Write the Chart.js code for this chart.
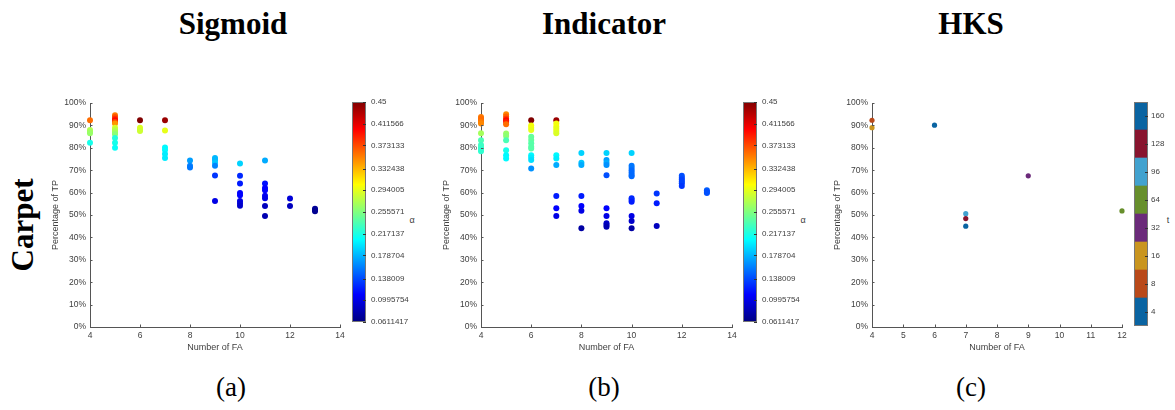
<!DOCTYPE html>
<html>
<head>
<meta charset="utf-8">
<script src="https://cdn.jsdelivr.net/npm/chart.js@4.4.1/dist/chart.umd.min.js"></script>
<style>
  body { margin:0; background:#fff; width:1175px; height:410px; position:relative; overflow:hidden; }
  canvas.c { position:absolute; }
  .t { position:absolute; font-family:'Liberation Serif','Times New Roman',serif; color:#000; white-space:nowrap; line-height:1; }
  .h { font-weight:bold; font-size:31px; transform:translateX(-50%); top:7.5px; }
  .sub { font-size:27px; transform:translateX(-50%); top:374px; }
  .lab { position:absolute; font-family:'Liberation Sans',Arial,sans-serif; font-size:9px; color:#404040; line-height:1; transform:translate(-50%,-50%); }
</style>
</head>
<body>
<div class="t h" style="left:233px">Sigmoid</div>
<div class="t h" style="left:604px">Indicator</div>
<div class="t h" style="left:971px">HKS</div>
<div class="t" style="left:22px;top:225px;font-size:31px;font-weight:bold;transform:translate(-50%,-50%) rotate(-90deg);">Carpet</div>
<div class="t sub" style="left:231px">(a)</div>
<div class="t sub" style="left:604px">(b)</div>
<div class="t sub" style="left:971px">(c)</div>
<div class="lab" style="left:412px;top:220px">α</div>
<div class="lab" style="left:803px;top:220px">α</div>
<div class="lab" style="left:1168px;top:220px">t</div>

<canvas class="c" id="pa" width="314" height="264" style="left:46px;top:93px"></canvas>
<canvas class="c" id="ca" width="70" height="240" style="left:352px;top:92px"></canvas>
<canvas class="c" id="pb" width="315" height="264" style="left:437px;top:93px"></canvas>
<canvas class="c" id="cb" width="70" height="240" style="left:743px;top:92px"></canvas>
<canvas class="c" id="pc" width="304" height="264" style="left:828px;top:93px"></canvas>
<canvas class="c" id="cc" width="41" height="244" style="left:1134px;top:92px"></canvas>

<script>
// ---------------- DATA ----------------
// (a) Sigmoid: number of FA, percentage of TP, alpha
const sigX = [4,4,4,4,4,
  5,5,5,5,5,5,5,5,5,5,5,5,5,5,
  6,6,6,6,
  7,7,7,7,7,7,
  8,8,8,
  9,9,9,9,9,9,
  10,10,10,10,10,10,10,10,
  11,11,11,11,11,11,11,11,
  12,12,
  13,13,13];
const sigY = [92.3,88.0,87.2,86.5,82.2,
  94.5,93.8,93.0,92.3,91.5,90.8,89.0,88.2,87.5,86.8,86.0,84.4,82.2,80.0,
  92.3,89.0,88.2,87.5,
  92.3,87.7,80.1,79.0,77.2,75.5,
  74.3,72.0,71.2,
  75.5,74.5,73.3,72.0,67.6,56.3,
  73.0,67.5,64.1,59.8,58.8,56.2,55.2,54.1,
  74.3,64.1,62.0,61.1,58.6,57.5,54.0,49.5,
  57.4,54.0,
  52.8,52.2,51.7];
const sigAlpha = [0.36,0.275,0.27,0.265,0.215,
  0.355,0.37,0.385,0.40,0.375,0.345,0.29,0.28,0.275,0.27,0.26,0.22,0.215,0.21,
  0.45,0.29,0.29,0.285,
  0.44,0.295,0.205,0.205,0.20,0.20,
  0.17,0.16,0.155,
  0.18,0.18,0.185,0.16,0.13,0.10,
  0.19,0.125,0.12,0.11,0.11,0.10,0.095,0.09,
  0.175,0.115,0.11,0.11,0.105,0.10,0.085,0.08,
  0.095,0.085,
  0.07,0.07,0.068];

// (b) Indicator
const indX = [4,4,4,4,4,4,4,4,4,4,4,
  5,5,5,5,5,5,5,5,5,5,5,5,
  6,6,6,6,6,6,6,6,6,6,6,6,6,
  7,7,7,7,7,7,7,7,7,7,7,7,
  8,8,8,8,8,8,8,
  9,9,9,9,9,9,9,9,9,9,
  10,10,10,10,10,10,10,10,10,10,10,10,10,
  11,11,11,
  12,12,12,12,12,12,
  13,13,13];
const indY = [93.8,93.0,92.3,91.5,90.8,86.5,83.4,81.2,80.2,79.3,78.5,
  95.0,94.0,93.0,92.3,91.5,90.5,86.4,85.3,83.4,78.9,76.7,75.2,
  92.3,90.0,89.0,88.0,84.9,83.5,82.0,80.5,79.7,76.7,75.7,74.5,70.8,
  92.3,90.8,89.5,88.5,87.5,86.5,76.7,75.2,72.3,58.5,53.0,49.6,
  77.7,73.3,72.3,58.5,54.0,51.9,44.1,
  77.7,74.5,73.3,72.3,67.8,53.0,49.6,46.3,45.5,44.8,
  77.7,72.0,71.0,70.0,69.0,68.0,67.3,57.5,56.7,55.9,49.6,47.3,44.1,
  59.6,55.2,45.1,
  67.5,66.6,65.8,65.0,64.2,63.0,
  61.0,60.3,59.8];
const indAlpha = [0.355,0.36,0.36,0.355,0.35,0.27,0.235,0.23,0.23,0.225,0.225,
  0.35,0.365,0.38,0.40,0.39,0.36,0.265,0.26,0.235,0.215,0.205,0.205,
  0.45,0.30,0.30,0.295,0.245,0.245,0.24,0.24,0.24,0.205,0.20,0.195,0.165,
  0.44,0.30,0.30,0.295,0.295,0.29,0.205,0.20,0.175,0.12,0.11,0.10,
  0.19,0.185,0.175,0.12,0.11,0.10,0.075,
  0.19,0.17,0.175,0.165,0.14,0.11,0.10,0.09,0.085,0.08,
  0.19,0.155,0.155,0.15,0.15,0.15,0.15,0.125,0.125,0.12,0.10,0.09,0.075,
  0.13,0.12,0.085,
  0.14,0.14,0.135,0.135,0.135,0.13,
  0.145,0.14,0.14];

// (c) HKS
const hksT = [4,8,16,32,64,96,128,160];
const hksX = [6,4,4,9,12,7,7,7];
const hksY = [90.1,92.3,89.0,67.5,51.8,50.6,48.4,45.0];

// colour bars
const alphaMin = 0.0611417, alphaMax = 0.45;
const alphaTicks = [0.0611417,0.0995754,0.138009,0.178704,0.217137,0.255571,0.294005,0.332438,0.373133,0.411566,0.45];
const alphaTickLabels = ['0.0611417','0.0995754','0.138009','0.178704','0.217137','0.255571','0.294005','0.332438','0.373133','0.411566','0.45'];
const tTickLabels = ['4','8','16','32','64','96','128','160'];
const tColors = ['#0a64a2','#b9491a','#c9951f','#6b2a7a','#678f2c','#42a2cf','#88142e','#0a64a2'];

// ---------------- STYLE ----------------
const SANS = "'Liberation Sans', Arial, sans-serif";
const TXT = '#404040';
const AX = '#555555';

function jet(a) {
  const t = Math.min(1, Math.max(0, (a - alphaMin) / (alphaMax - alphaMin)));
  const f = v => Math.round(255 * Math.min(1, Math.max(0, v)));
  return `rgb(${f(1.5 - Math.abs(4*t - 3))},${f(1.5 - Math.abs(4*t - 2))},${f(1.5 - Math.abs(4*t - 1))})`;
}

const inwardTicks = {
  id: 'inwardTicks',
  afterDatasetsDraw(chart) {
    const {ctx, chartArea: a, scales: {x, y}} = chart;
    ctx.save();
    ctx.strokeStyle = AX; ctx.lineWidth = 1;
    ctx.beginPath();
    x.ticks.forEach(t => { const p = Math.round(x.getPixelForValue(t.value)) + 0.5; ctx.moveTo(p, a.bottom); ctx.lineTo(p, a.bottom - 2.5); });
    y.ticks.forEach(t => { const p = Math.round(y.getPixelForValue(t.value)) + 0.5; ctx.moveTo(a.left, p); ctx.lineTo(a.left + 2.5, p); });
    ctx.stroke();
    ctx.restore();
  }
};

function scatterPanel(id, xs, ys, colors, xMin, xMax, xStep, padRight, radius) {
  new Chart(document.getElementById(id), {
    type: 'scatter',
    data: { datasets: [{
      data: xs.map((x, i) => ({x: x, y: ys[i]})),
      pointBackgroundColor: colors, pointBorderColor: colors, pointBorderWidth: 0,
      pointRadius: radius, pointHoverRadius: radius, clip: false
    }]},
    options: {
      responsive: false, animation: false, events: [],
      layout: { padding: { top: 10, right: padRight, left: 0, bottom: 0 } },
      plugins: { legend: {display: false}, tooltip: {enabled: false} },
      scales: {
        x: {
          type: 'linear', min: xMin, max: xMax,
          grid: {display: false, drawTicks: false}, border: {display: true, color: AX, width: 1},
          ticks: {stepSize: xStep, padding: 4, color: TXT, font: {family: SANS, size: 8.5}, autoSkip: false, maxRotation: 0},
          title: {display: true, text: 'Number of FA', color: TXT, font: {family: SANS, size: 9}, padding: {top: 2, bottom: 4}},
          afterFit: s => { s.height = 30; }
        },
        y: {
          min: 0, max: 100,
          grid: {display: false, drawTicks: false}, border: {display: true, color: AX, width: 1},
          ticks: {stepSize: 10, padding: 4, color: TXT, font: {family: SANS, size: 8.5}, autoSkip: false, callback: v => v + '%'},
          title: {display: true, text: 'Percentage of TP', color: TXT, font: {family: SANS, size: 9}, padding: {top: 4, bottom: 0}},
          afterFit: s => { s.width = 44; }
        }
      }
    },
    plugins: [inwardTicks]
  });
}

const barFrame = {
  id: 'barFrame',
  beforeDatasetsDraw(chart, args, opts) {
    if (!opts.gradient) return;
    const {ctx, chartArea: a} = chart;
    const g = ctx.createLinearGradient(0, a.bottom, 0, a.top);
    [0, 0.125, 0.25, 0.375, 0.5, 0.625, 0.75, 0.875, 1].forEach(s => g.addColorStop(s, jet(alphaMin + s * (alphaMax - alphaMin))));
    ctx.save(); ctx.fillStyle = g; ctx.fillRect(a.left, a.top, a.right - a.left, a.bottom - a.top); ctx.restore();
  },
  afterDraw(chart) {
    const {ctx, chartArea: a, scales: {y}} = chart;
    ctx.save();
    ctx.strokeStyle = '#777'; ctx.lineWidth = 1;
    ctx.strokeRect(a.left + 0.5, a.top + 0.5, a.right - a.left - 1, a.bottom - a.top - 1);
    ctx.strokeStyle = '#333';
    ctx.beginPath();
    y.ticks.forEach(t => { const p = Math.round(y.getPixelForValue(t.value)) + 0.5; ctx.moveTo(a.right, p); ctx.lineTo(a.right - 3, p); });
    ctx.stroke();
    ctx.restore();
  }
};

function jetBar(id) {
  new Chart(document.getElementById(id), {
    type: 'scatter',
    data: { datasets: [{ data: [] }] },
    options: {
      responsive: false, animation: false, events: [],
      layout: { padding: { top: 10, bottom: 10, left: 0, right: 0 } },
      plugins: { legend: {display: false}, tooltip: {enabled: false}, barFrame: {gradient: true} },
      scales: {
        x: { display: false, min: 0, max: 1 },
        y: {
          position: 'right', min: alphaMin, max: alphaMax,
          grid: {display: false, drawTicks: false}, border: {display: false},
          ticks: {padding: 5, autoSkip: false, color: TXT, font: {family: SANS, size: 8}, callback: (v, i) => alphaTickLabels[i]},
          afterBuildTicks: s => { s.ticks = alphaTicks.map(v => ({value: v})); },
          afterFit: s => { s.width = 56; }
        }
      }
    },
    plugins: [barFrame]
  });
}

scatterPanel('pa', sigX, sigY, sigAlpha.map(jet), 4, 14, 2, 20, 3);
jetBar('ca');
scatterPanel('pb', indX, indY, indAlpha.map(jet), 4, 14, 2, 20, 3);
jetBar('cb');
scatterPanel('pc', hksX, hksY, hksT.map(t => tColors[tTickLabels.indexOf(String(t))]), 4, 12, 1, 10, 2.6);

new Chart(document.getElementById('cc'), {
  type: 'bar',
  data: { labels: [''], datasets: tColors.map(c => ({ data: [1], backgroundColor: c, borderWidth: 0, barPercentage: 1, categoryPercentage: 1 })) },
  options: {
    responsive: false, animation: false, events: [],
    layout: { padding: { top: 10, bottom: 10, left: 0, right: 0 } },
    plugins: { legend: {display: false}, tooltip: {enabled: false}, barFrame: {gradient: false} },
    scales: {
      x: { display: false, stacked: true },
      y: {
        stacked: true, position: 'right', min: 0, max: 8,
        grid: {display: false, drawTicks: false}, border: {display: false},
        ticks: {padding: 3, autoSkip: false, color: TXT, font: {family: SANS, size: 8}, callback: (v, i) => tTickLabels[i]},
        afterBuildTicks: s => { s.ticks = tTickLabels.map((_, i) => ({value: i + 0.5})); },
        afterFit: s => { s.width = 27; }
      }
    }
  },
  plugins: [barFrame]
});
</script>
</body>
</html>
